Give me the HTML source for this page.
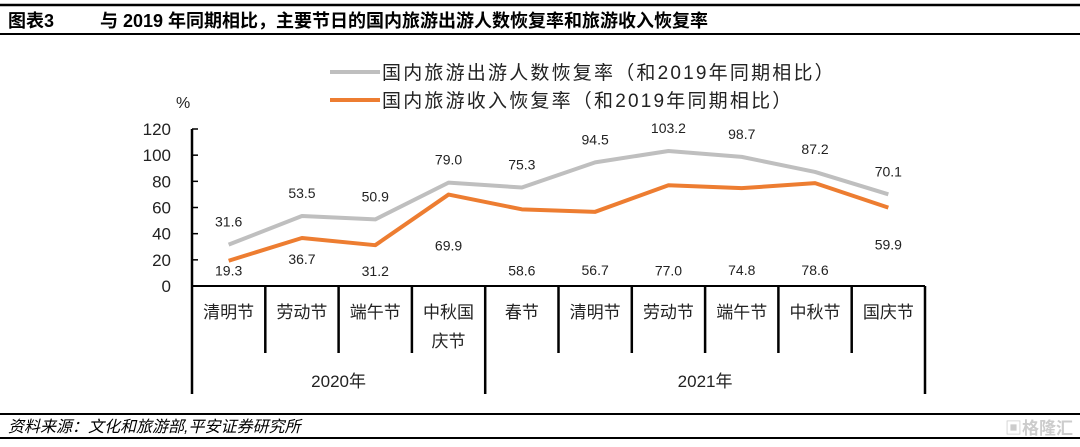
<!DOCTYPE html>
<html><head><meta charset="utf-8">
<style>
body{margin:0;width:1080px;height:442px;background:#fff;overflow:hidden;font-family:"Liberation Sans","Noto Sans CJK SC",sans-serif;}
svg text{font-family:"Liberation Sans","Noto Sans CJK SC",sans-serif;}
</style></head>
<body>
<svg id="c" width="1080" height="442">
<line x1="0" y1="5" x2="1080" y2="5" stroke="#000" stroke-width="2.5"/>
<text x="8" y="27" font-size="18" font-weight="bold">图表3</text>
<text x="100" y="27" font-size="18" font-weight="bold">与 2019 年同期相比，主要节日的国内旅游出游人数恢复率和旅游收入恢复率</text>
<line x1="0" y1="34" x2="1080" y2="34" stroke="#000" stroke-width="2"/>
<g>
<line x1="330" y1="72" x2="380" y2="72" stroke="#bfbfbf" stroke-width="4"/>
<text x="382" y="79" font-size="19" letter-spacing="2.2" fill="#222">国内旅游出游人数恢复率（和2019年同期相比）</text>
<line x1="330" y1="100" x2="380" y2="100" stroke="#ed7d31" stroke-width="4"/>
<text x="382" y="107" font-size="19" letter-spacing="2.2" fill="#222">国内旅游收入恢复率（和2019年同期相比）</text>
</g>
<text x="176" y="108" font-size="16" fill="#222">%</text>
<g id="plot"></g>
<line x1="0" y1="414" x2="1080" y2="414" stroke="#000" stroke-width="2"/>
<text x="8" y="432" font-size="16" font-style="italic">资料来源：文化和旅游部,平安证券研究所</text>
<text x="1005" y="434" font-size="17" fill="#ccc" font-weight="bold">▣格隆汇</text>
<line x1="0" y1="438" x2="1080" y2="438" stroke="#000" stroke-width="2"/>
</svg>
<script>
const categories=["清明节","劳动节","端午节","中秋国\n庆节","春节","清明节","劳动节","端午节","中秋节","国庆节"];
const years=["2020年","2021年"];
const yearCounts=[4,6];
const visitors=[31.6,53.5,50.9,79.0,75.3,94.5,103.2,98.7,87.2,70.1];
const revenue=[19.3,36.7,31.2,69.9,58.6,56.7,77.0,74.8,78.6,59.9];
const yTicks=[0,20,40,60,80,100,120];
const revLabelOffset=[10,21,26,51,61,58,85,82,87,37];
const ns="http://www.w3.org/2000/svg";
const g=document.getElementById("plot");
const X0=192,X1=925,Y0=286,Y1=129,YMAX=120;
const cw=(X1-X0)/categories.length;
const xs=i=>X0+cw*(i+0.5);
const ys=v=>Y0-(v/YMAX)*(Y0-Y1);
function mk(t,a){const e=document.createElementNS(ns,t);for(const k in a)e.setAttribute(k,a[k]);g.appendChild(e);return e;}
yTicks.forEach(v=>{
 const t=mk("text",{x:171,y:ys(v)+6,"font-size":17,"text-anchor":"end",fill:"#222"});t.textContent=v;
 
 
 const l=mk("line",{x1:X0,x2:X0+6,y1:ys(v),y2:ys(v),stroke:"#000","stroke-width":1.5});
 
 
});
let ya=mk("line",{x1:X0,x2:X0,y1:Y1,y2:394,stroke:"#000","stroke-width":2.5});


let xa=mk("line",{x1:X0,x2:X1,y1:Y0,y2:Y0,stroke:"#000","stroke-width":2});


let bounds=[0];yearCounts.forEach(c=>bounds.push(bounds[bounds.length-1]+c));
for(let i=1;i<=categories.length;i++){
 const major=bounds.includes(i);
 const l=mk("line",{x1:X0+cw*i,x2:X0+cw*i,y1:Y0,y2:major?394:353,stroke:"#000","stroke-width":2.5});
 
 
}
categories.forEach((c,i)=>{
 c.split("\n").forEach((s,j)=>{
  const t=mk("text",{x:xs(i),y:318+j*29,"font-size":17,"text-anchor":"middle",fill:"#222"});t.textContent=s;
  
  
 });
});
years.forEach((y,k)=>{
 const cx=X0+cw*(bounds[k]+bounds[k+1])/2;
 const t=mk("text",{x:cx,y:387,"font-size":17,"text-anchor":"middle",fill:"#222"});t.textContent=y;
 
 
});
function series(vals,color,name){
 const p=mk("polyline",{points:vals.map((v,i)=>xs(i)+","+ys(v)).join(" "),fill:"none",stroke:color,"stroke-width":4,"stroke-linejoin":"round"});
 
 
}
series(visitors,"#bfbfbf","visitors-line");
series(revenue,"#ed7d31","revenue-line");
visitors.forEach((v,i)=>{
 const t=mk("text",{x:xs(i),y:ys(v)-23+5,"font-size":14,"text-anchor":"middle",fill:"#222"});t.textContent=v.toFixed(1);
 
 
});
revenue.forEach((v,i)=>{
 const t=mk("text",{x:xs(i),y:ys(v)+revLabelOffset[i]+5,"font-size":14,"text-anchor":"middle",fill:"#222"});t.textContent=v.toFixed(1);
 
 
});
</script>
</body></html>
